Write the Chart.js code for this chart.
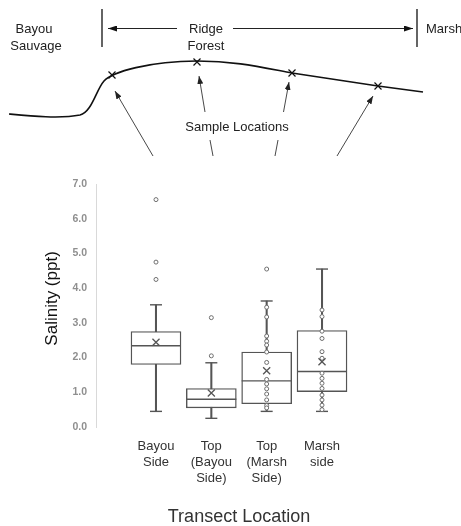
<!DOCTYPE html>
<html>
<head>
<meta charset="utf-8">
<script src="https://cdn.jsdelivr.net/npm/chart.js@4.4.1/dist/chart.umd.min.js"></script>
<style>
html,body{margin:0;padding:0;background:#fff;}
#wrap{position:relative;width:461px;height:526px;overflow:hidden;background:#fff;}
#c{position:absolute;left:0;top:0;}
#diagram{position:absolute;left:0;top:0;}
#diagram text{font-family:"Liberation Sans",Arial,sans-serif;font-size:13px;fill:#222;}
</style>
</head>
<body>
<div id="wrap">
<canvas id="c" width="461" height="526"></canvas>
<svg id="diagram" width="461" height="170" viewBox="0 0 461 170">
  <defs>
    <marker id="ah" markerWidth="8" markerHeight="6" refX="8" refY="3" orient="auto" markerUnits="userSpaceOnUse">
      <path d="M0,0 L8,3 L0,6 z" fill="#222"/>
    </marker>
    <marker id="ah2" markerWidth="9" markerHeight="6" refX="9" refY="3" orient="auto" markerUnits="userSpaceOnUse">
      <path d="M0,0 L9,3 L0,6 z" fill="#111"/>
    </marker>
  </defs>
  <text x="34" y="33" text-anchor="middle">Bayou</text>
  <text x="36" y="49.5" text-anchor="middle">Sauvage</text>
  <text x="206" y="33" text-anchor="middle">Ridge</text>
  <text x="206" y="49.5" text-anchor="middle">Forest</text>
  <text x="426" y="33">Marsh</text>
  <line x1="102" y1="9" x2="102" y2="47" stroke="#111" stroke-width="1.3"/>
  <line x1="417" y1="9" x2="417" y2="47" stroke="#111" stroke-width="1.3"/>
  <line x1="177" y1="28.5" x2="108" y2="28.5" stroke="#222" stroke-width="1" marker-end="url(#ah2)"/>
  <line x1="233" y1="28.5" x2="413" y2="28.5" stroke="#222" stroke-width="1" marker-end="url(#ah2)"/>
  <path d="M9,114 C30,116 60,119 80,115 C92,112 96,90 104,81 C112,72 150,61 197,61 C235,61 260,67 292,73 L378,86 L423,92" fill="none" stroke="#111" stroke-width="1.6"/>
  <g stroke="#111" stroke-width="1.2">
    <path d="M108.5,71.5 L115.5,78.5 M115.5,71.5 L108.5,78.5"/>
    <path d="M193.5,58.5 L200.5,65.5 M200.5,58.5 L193.5,65.5"/>
    <path d="M288.5,69.5 L295.5,76.5 M295.5,69.5 L288.5,76.5"/>
    <path d="M374.5,82.5 L381.5,89.5 M381.5,82.5 L374.5,89.5"/>
  </g>
  <text x="237" y="130.5" text-anchor="middle">Sample Locations</text>
  <g stroke="#333" stroke-width="0.9" fill="none">
    <line x1="153" y1="156" x2="115" y2="91" marker-end="url(#ah)"/>
    <line x1="213" y1="156" x2="210" y2="140"/>
    <line x1="205" y1="112" x2="199" y2="76" marker-end="url(#ah)"/>
    <line x1="275" y1="156" x2="278" y2="140"/>
    <line x1="283.5" y1="112" x2="289" y2="82" marker-end="url(#ah)"/>
    <line x1="337" y1="156" x2="373" y2="96" marker-end="url(#ah)"/>
  </g>
</svg>
</div>
<script>
// ---- data ----
const categories = [['Bayou','Side'], ['Top','(Bayou','Side)'], ['Top','(Marsh','Side)'], ['Marsh','side']];
const whiskerLow  = [0.45, 0.25, 0.45, 0.45];
const q1          = [1.8, 0.55, 0.67, 1.02];
const median      = [2.34, 0.8, 1.33, 1.6];
const q3          = [2.75, 1.11, 2.16, 2.78];
const whiskerHigh = [3.52, 1.85, 3.63, 4.55];
const means       = [2.44, 0.98, 1.62, 1.88];
const outliers    = [[6.55, 4.75, 4.25], [3.15, 2.05], [4.55], []];
const innerPoints = [
  [],
  [],
  [3.45, 3.17, 2.62, 2.47, 2.36, 2.16, 1.86, 1.37, 1.24, 1.1, 0.95, 0.78, 0.62, 0.55],
  [3.37, 3.18, 2.76, 2.55, 2.17, 1.98, 1.55, 1.4, 1.26, 1.11, 0.92, 0.78, 0.63, 0.5]
];
const yTicks = [0, 1, 2, 3, 4, 5, 6, 7];

// ---- build datasets ----
const pos = categories.map((c, i) => i + 1);
const lineCol = '#555555';
const ptCol = '#6e6e6e';

function pts(arr) { return arr.map((v, i) => ({x: pos[i], y: v})); }
function multiPts(arrs) {
  const out = [];
  arrs.forEach((a, i) => a.forEach(v => out.push({x: pos[i], y: v})));
  return out;
}

const datasets = [
  { type: 'bar', label: 'whisker', data: pos.map((p, i) => ({x: p, y: [whiskerLow[i], whiskerHigh[i]]})),
    backgroundColor: lineCol, borderWidth: 0, barThickness: 1.4, grouped: false, order: 10 },
  { type: 'bar', label: 'box', data: pos.map((p, i) => ({x: p, y: [q1[i], q3[i]]})),
    backgroundColor: '#ffffff', borderColor: lineCol, borderWidth: 1.4, borderSkipped: false,
    barThickness: 50, grouped: false, order: 9 },
  { type: 'line', label: 'median', data: pts(median), showLine: false, pointStyle: 'line',
    pointRadius: 25, borderColor: lineCol, pointBorderWidth: 1.4, order: 8 },
  { type: 'line', label: 'capHigh', data: pts(whiskerHigh), showLine: false, pointStyle: 'line',
    pointRadius: 6, borderColor: lineCol, pointBorderWidth: 1.4, order: 7 },
  { type: 'line', label: 'capLow', data: pts(whiskerLow), showLine: false, pointStyle: 'line',
    pointRadius: 6, borderColor: lineCol, pointBorderWidth: 1.4, order: 7 },
  { type: 'line', label: 'points', data: multiPts(innerPoints), showLine: false, pointStyle: 'circle',
    pointRadius: 2, pointBorderWidth: 1, pointBorderColor: ptCol, pointBackgroundColor: '#ffffff', order: 6 },
  { type: 'line', label: 'outliers', data: multiPts(outliers), showLine: false, pointStyle: 'circle',
    pointRadius: 2, pointBorderWidth: 1, pointBorderColor: ptCol, pointBackgroundColor: '#ffffff', order: 5 },
  { type: 'line', label: 'mean', data: pts(means), showLine: false, pointStyle: 'crossRot',
    pointRadius: 5, pointBorderColor: lineCol, pointBorderWidth: 1.3, order: 4 }
];

new Chart(document.getElementById('c'), {
  type: 'bar',
  data: { datasets },
  options: {
    responsive: false,
    animation: false,
    devicePixelRatio: 1,
    layout: { padding: { left: 30, top: 184, right: 79, bottom: 0 } },
    plugins: { legend: { display: false }, tooltip: { enabled: false } },
    scales: {
      x: {
        type: 'linear',
        offset: false,
        min: -0.084, max: 5.084,
        grid: { display: false, drawTicks: false, offset: false },
        border: { display: false },
        afterBuildTicks: (s) => { s.ticks = pos.map(p => ({value: p})); },
        afterFit: (s) => { s.height = 99; },
        ticks: {
          autoSkip: false, maxRotation: 0, minRotation: 0, padding: 11,
          color: '#333333',
          font: { family: '"Liberation Sans", Arial, sans-serif', size: 13, lineHeight: '16px' },
          callback: (v) => categories[Math.round(v) - 1] || ''
        },
        title: { display: true, text: 'Transect Location', color: '#333333',
          font: { family: '"Liberation Sans", Arial, sans-serif', size: 18, lineHeight: 1 },
          padding: { top: 0, bottom: 0 } }
      },
      y: {
        min: 0, max: 7,
        grid: { display: false, drawTicks: false },
        border: { display: true, color: '#d9d9d9', width: 1 },
        afterBuildTicks: (s) => { s.ticks = yTicks.map(v => ({value: v})); },
        afterFit: (s) => { s.width = 66; },
        ticks: {
          padding: 9, color: '#8f8f8f',
          font: { family: '"Liberation Sans", Arial, sans-serif', size: 10.5, weight: 'bold' },
          callback: (v) => Number(v).toFixed(1)
        },
        title: { display: true, text: '   Salinity (ppt)', color: '#111111',
          font: { family: '"Liberation Sans", Arial, sans-serif', size: 17, lineHeight: 1 },
          padding: { top: 13.5, bottom: 0 } }
      }
    }
  }
});
</script>
</body>
</html>
